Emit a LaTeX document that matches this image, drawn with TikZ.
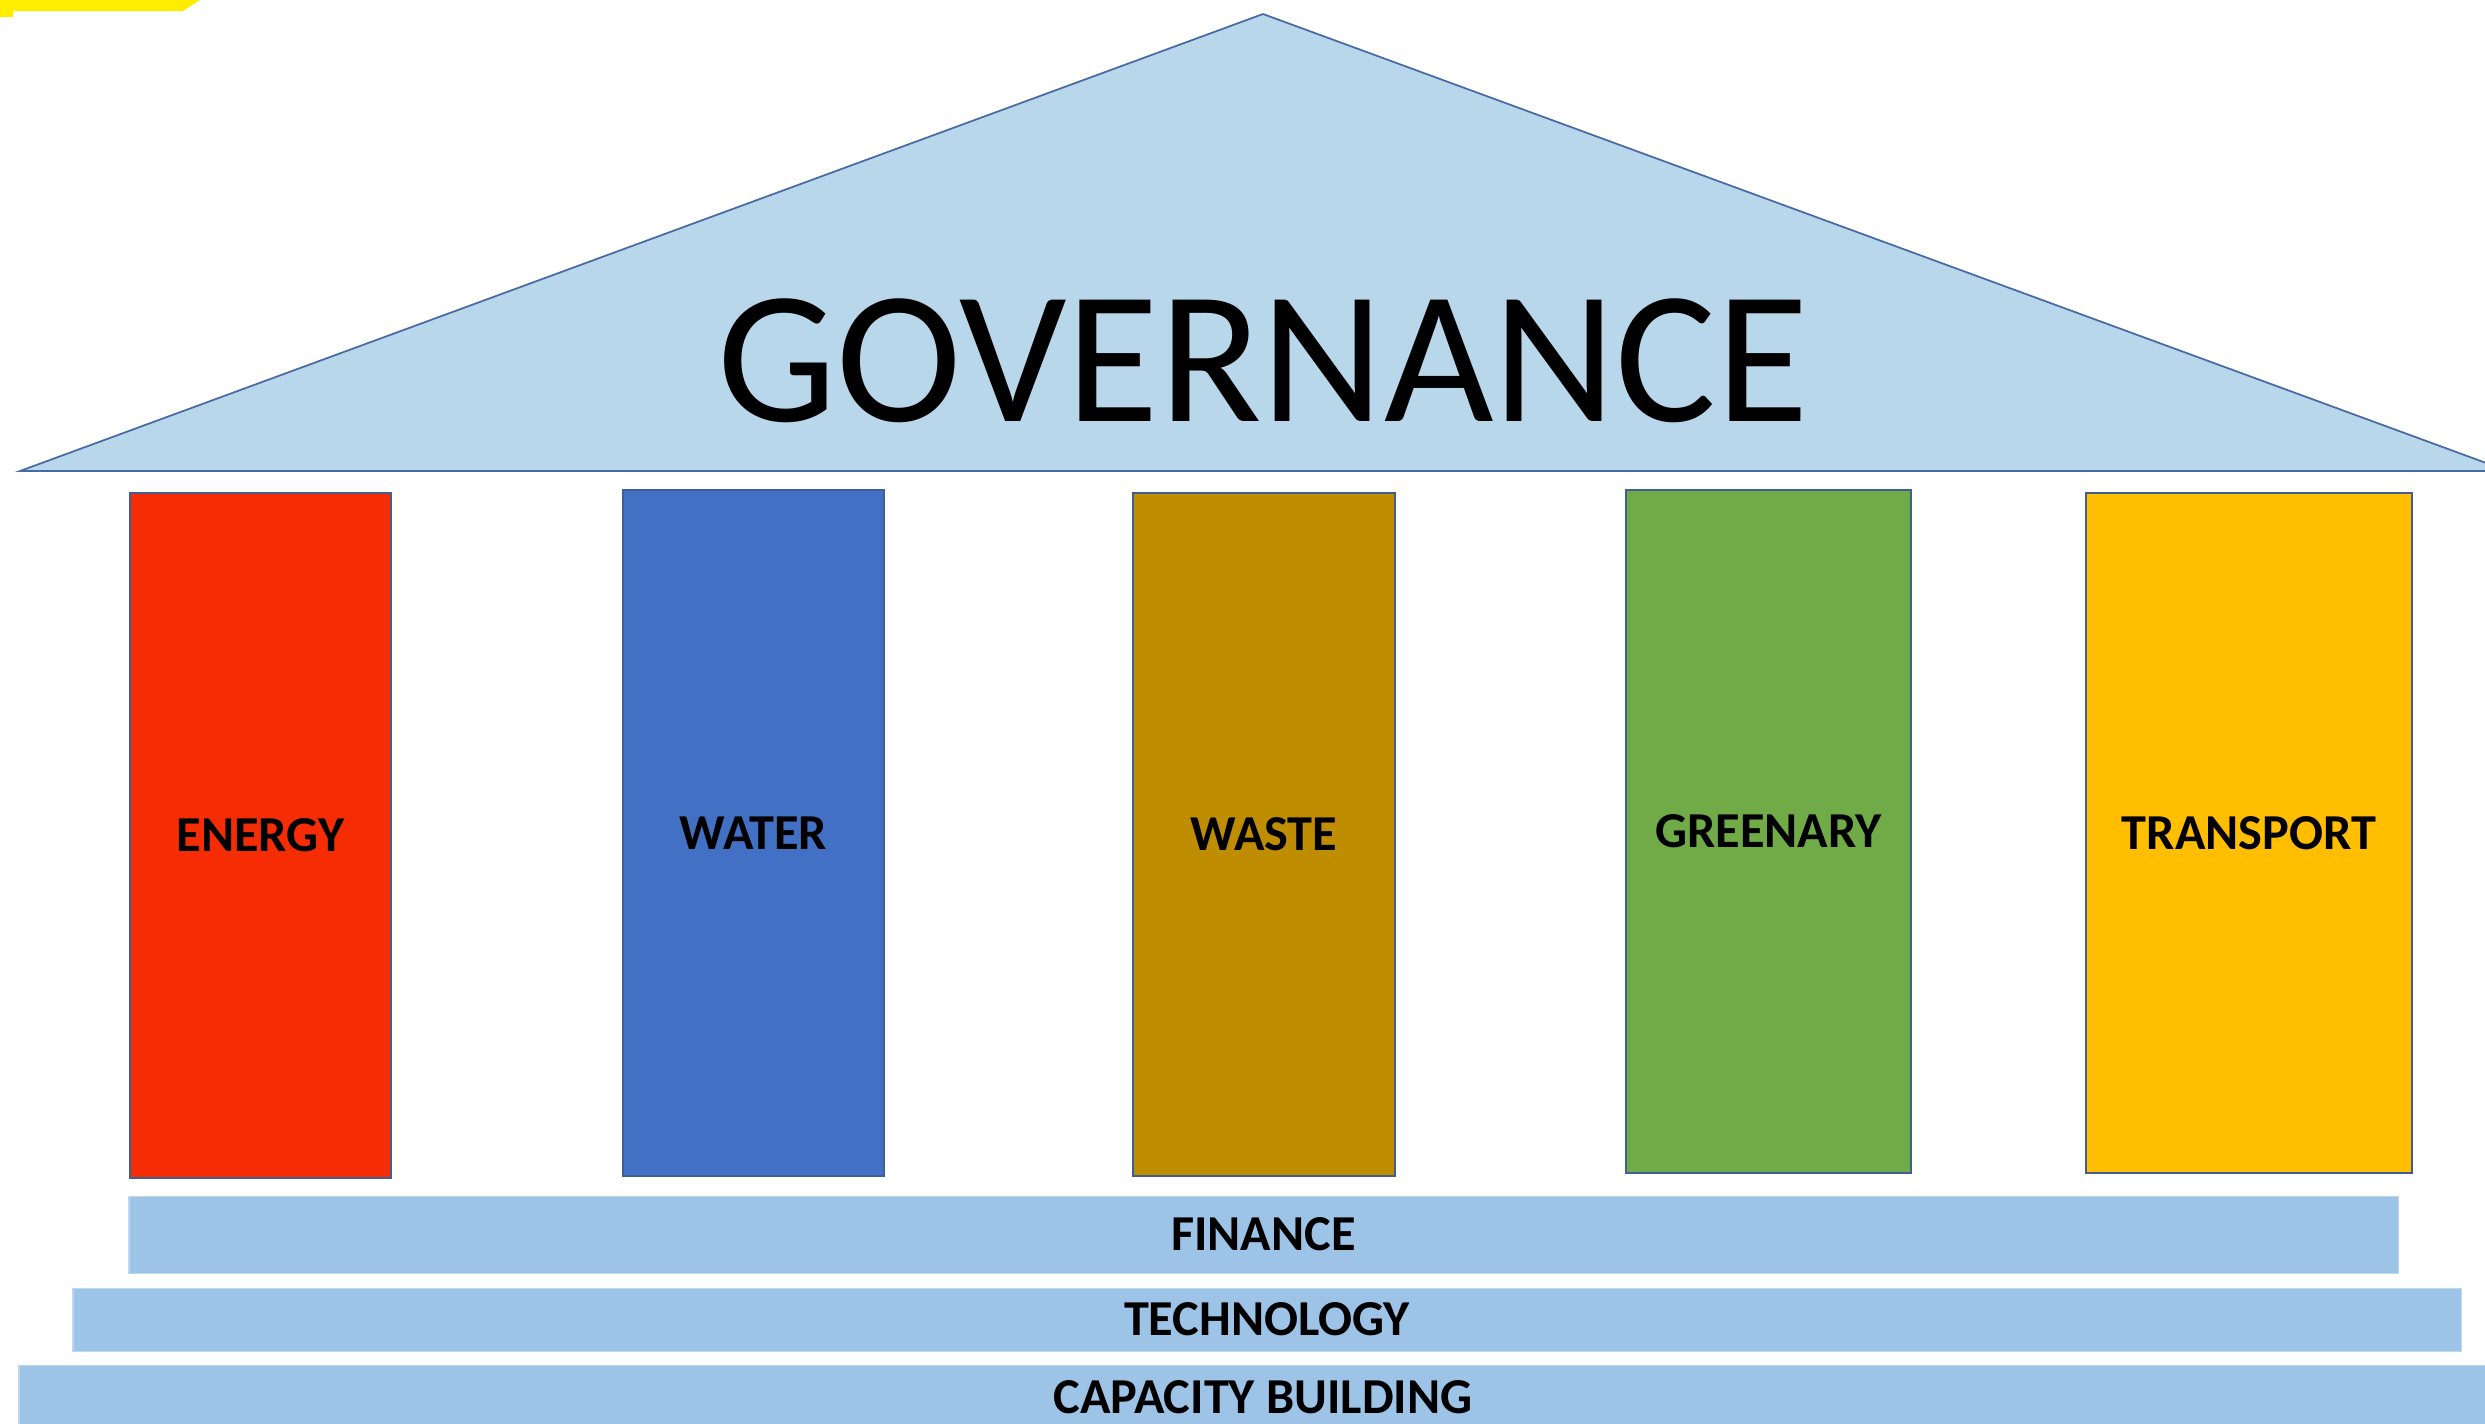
\documentclass[tikz,border=0pt]{standalone}
\usepackage{fontspec}
\setmainfont{Carlito}
\definecolor{roofblue}{HTML}{B9D7EA}
\definecolor{roofline}{HTML}{4A6AA5}
\definecolor{barblue}{HTML}{9DC3E6}
\definecolor{barline}{HTML}{BDD7EE}
\definecolor{pillarline}{HTML}{3F5E96}
\definecolor{energyc}{HTML}{F62D04}
\definecolor{waterc}{HTML}{4270C4}
\definecolor{wastec}{HTML}{BF8D00}
\definecolor{greenc}{HTML}{70AB47}
\definecolor{transc}{HTML}{FFBE00}
\definecolor{markyellow}{HTML}{FFED00}
\begin{document}
\begin{tikzpicture}[x=0.01cm,y=-0.01cm,
  pillar/.style={draw=pillarline,line width=0.6pt},
  bar/.style={fill=barblue,draw=barline,line width=0.3pt},
  lbl/.style={font=\fontsize{14.3pt}{16pt}\selectfont\bfseries,inner sep=0pt,text=black}]
\useasboundingbox (0,0) rectangle (2485,1423);
% yellow mark
\fill[markyellow] (0,0) -- (200,0) -- (183,11) -- (13,11) -- (13,17) -- (0,17) -- cycle;
% roof
\filldraw[fill=roofblue,draw=roofline,line width=0.5pt] (20,471) -- (1263,14) -- (2508,471) -- cycle;
\node[font=\fontsize{53.8pt}{60pt}\selectfont,inner sep=0pt] (gov) at (1263,361) {GOVERNANCE};
% pillars
\draw[pillar,fill=energyc] (130,493) rectangle (391,1178) node[lbl,midway] (energy) {ENERGY};
\draw[pillar,fill=waterc] (623,490) rectangle (884,1176) node[lbl,midway] (water) {WATER};
\draw[pillar,fill=wastec] (1133,493) rectangle (1395,1176) node[lbl,midway] (waste) {WASTE};
\draw[pillar,fill=greenc] (1626,490) rectangle (1911,1173) node[lbl,midway] (green) {GREENARY};
\draw[pillar,fill=transc] (2086,493) rectangle (2412,1173) node[lbl,midway] (trans) {TRANSPORT};
% bars
\draw[bar] (129,1196) rectangle (2398,1273) node[lbl,midway] (fin) {FINANCE};
\draw[bar] (73,1288) rectangle (2461,1351) node[lbl,midway] (tech) {TECHNOLOGY};
\draw[bar] (19,1365) rectangle (2490,1430);
\node[lbl] (cap) at (1263,1397) {CAPACITY BUILDING};
\end{tikzpicture}
\end{document}
